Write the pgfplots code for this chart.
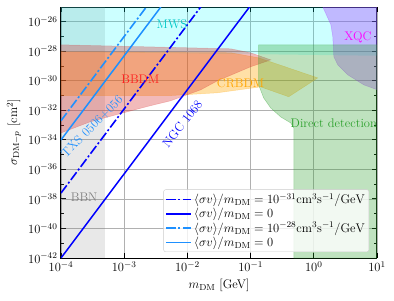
\RequirePackage{fix-cm}
\documentclass[border=0pt]{standalone}
\usepackage{pgfplots}
\pgfplotsset{compat=1.18}
\definecolor{dodger}{RGB}{30,144,255}
\definecolor{pblue}{RGB}{0,0,255}
\definecolor{tabred}{RGB}{214,39,40}
\definecolor{tabgreen}{RGB}{44,160,44}
\definecolor{orng}{RGB}{255,165,0}
\definecolor{labred}{RGB}{255,30,30}
\definecolor{purp}{RGB}{167,42,255}
\definecolor{cyn}{RGB}{0,255,255}
\definecolor{mag}{RGB}{255,0,255}
\definecolor{turq}{RGB}{0,200,200}
\definecolor{gry}{RGB}{128,128,128}
\definecolor{gridc}{RGB}{176,176,176}
\definecolor{legc}{RGB}{204,204,204}
\begin{document}
\begin{tikzpicture}
\begin{axis}[
  name=ax,
  scale only axis, width=316pt, height=251pt,
  xmode=log, ymode=log,
  xmin=1e-4, xmax=10, ymin=1e-42, ymax=1e-25,
  xtick={1e-4,1e-3,1e-2,1e-1,1,10},
  ytick={1e-42,1e-40,1e-38,1e-36,1e-34,1e-32,1e-30,1e-28,1e-26},
  minor ytick={1e-41,1e-39,1e-37,1e-35,1e-33,1e-31,1e-29,1e-27},
  xminorticks=false,
  grid=major, major grid style={gridc, line width=0.8pt},
  tick align=inside,
  major tick length=5pt, minor tick length=3pt,
  every tick/.style={black, line width=0.9pt},
  axis line style={line width=1pt},
  tick label style={font=\fontsize{12.5}{14}\selectfont},
  label style={font=\fontsize{12.5}{14}\selectfont},
  xlabel={$m_{\rm DM}$ [GeV]},
  ylabel={$\sigma_{{\rm DM}-p}$ [cm$^2$]},
  xlabel style={at={(axis description cs:0.5,-0.1076)}, anchor=center},
  ylabel style={at={(axis description cs:-0.149,0.5)}, anchor=center},
  legend style={at={(0.975,0.024)}, anchor=south east, draw=legc, fill=white, fill opacity=0.8, text opacity=1, draw opacity=1, rounded corners=2pt, font=\fontsize{12.5}{14}\selectfont, inner sep=2pt, row sep=-1pt},
  legend cell align=left,
  legend image code/.code={\draw[#1, opacity=1] (0pt,0pt) -- (25pt,0pt);},
]
% BBN
\addplot[forget plot, fill=gry, fill opacity=0.18, draw=none] coordinates {(1e-4,1e-42) (5.01e-4,1e-42) (5.01e-4,1e-25) (1e-4,1e-25)} -- cycle;
% MWS
\addplot[forget plot, fill=cyn, fill opacity=0.2, draw=none] coordinates {(1e-4,9.3e-29) (10,5e-29) (10,1e-25) (1e-4,1e-25)} -- cycle;
% CRBDM
\addplot[forget plot, fill=orng, fill opacity=0.35, draw=orng, draw opacity=0.3, line width=0.5pt] coordinates {(1e-4,9.33e-29) (0.0482,7.94e-29) (0.134,3.63e-29) (1.156,1.585e-30) (0.401,8.32e-32) (0.1442,3.89e-31) (0.0299,1.55e-31) (5.37e-3,1e-31) (1e-4,1e-31)} -- cycle;
% BBDM
\addplot[forget plot, fill=tabred, fill opacity=0.32, draw=tabred, draw opacity=0.25, line width=0.5pt] coordinates {(1e-4,2.75e-28) (0.0482,1.48e-28) (0.1,7.94e-29) (0.209,2.63e-29) (0.1,8.91e-30) (0.0776,5.62e-30) (0.0299,1e-30) (0.01622,2.45e-31) (5.37e-3,4.37e-32) (2.57e-3,2.04e-32) (9.64e-4,6.76e-33) (2.88e-4,1.66e-33) (1e-4,2.95e-34)} -- cycle;
% XQC
\addplot[forget plot, fill=purp, fill opacity=0.33, draw=purp, draw opacity=0.3, line width=0.5pt] coordinates {(1.39,1e-25) (1.862,6.31e-27) (1.995,1e-27) (2.075,4.27e-29) (2.399,1.202e-29) (3.467,2.512e-30) (6.166,5.37e-31) (10,2.512e-31) (10,1e-25)} -- cycle;
% Direct detection
\addplot[forget plot, fill=tabgreen, fill opacity=0.3, draw=tabgreen, draw opacity=0.4, line width=0.5pt] coordinates {(0.134,2.75e-28) (10,2.75e-28) (10,1e-42) (0.482,1e-42) (0.482,6.46e-34) (0.4315,1.41e-33) (0.299,3.63e-33) (0.2075,1.48e-32) (0.1607,7.08e-32) (0.134,5.37e-31)} -- cycle;
% lines
\addplot[draw=pblue, line width=1.6pt, line cap=butt, dash pattern=on 9.6pt off 2.4pt on 2pt off 2.4pt] coordinates {(1e-4,2.512e-38) (0.01622,1e-25)};
\addlegendentry{$\langle\sigma v\rangle/m_{\rm DM} = 10^{-31}{\rm cm^3s^{-1}/GeV}$}
\addplot[draw=pblue, line width=1.5pt] coordinates {(1e-4,1e-42) (0.0959,1e-25)};
\addlegendentry{$\langle\sigma v\rangle/m_{\rm DM} = 0$}
\addplot[draw=dodger, line width=1.6pt, line cap=butt, dash pattern=on 9.6pt off 2.4pt on 2pt off 2.4pt] coordinates {(1e-4,1.995e-33) (2.239e-3,1e-25)};
\addlegendentry{$\langle\sigma v\rangle/m_{\rm DM} = 10^{-28}{\rm cm^3s^{-1}/GeV}$}
\addplot[draw=dodger, line width=1.5pt] coordinates {(1e-4,1e-34) (3.80e-3,1e-25)};
\addlegendentry{$\langle\sigma v\rangle/m_{\rm DM} = 0$}
% labels
\begin{scope}[font=\fontsize{12.5}{14}\selectfont]
\node[turq] at (axis cs:5.7e-3,7.2e-27) {MWS};
\node[labred] at (axis cs:1.8e-3,1.38e-30) {BBDM};
\node[orng] at (axis cs:0.0693,7.2e-31) {CRBDM};
\node[mag] at (axis cs:4.99,8.3e-28) {XQC};
\node[tabgreen] at (axis cs:2.07,1.41e-33) {Direct detection};
\node[gry] at (axis cs:2.32e-4,1.38e-38) {BBN};
\node[dodger, rotate=45] at (axis cs:3.1e-4,8.0e-34) {TXS 0506+056};
\node[pblue, rotate=52] at (axis cs:8.3e-3,1.2e-33) {NGC 1068};
\end{scope}
\end{axis}
\pgfresetboundingbox
\path ([shift={(-61pt,-43pt)}]ax.south west) rectangle ([shift={(17pt,7pt)}]ax.north east);
\end{tikzpicture}
\end{document}
